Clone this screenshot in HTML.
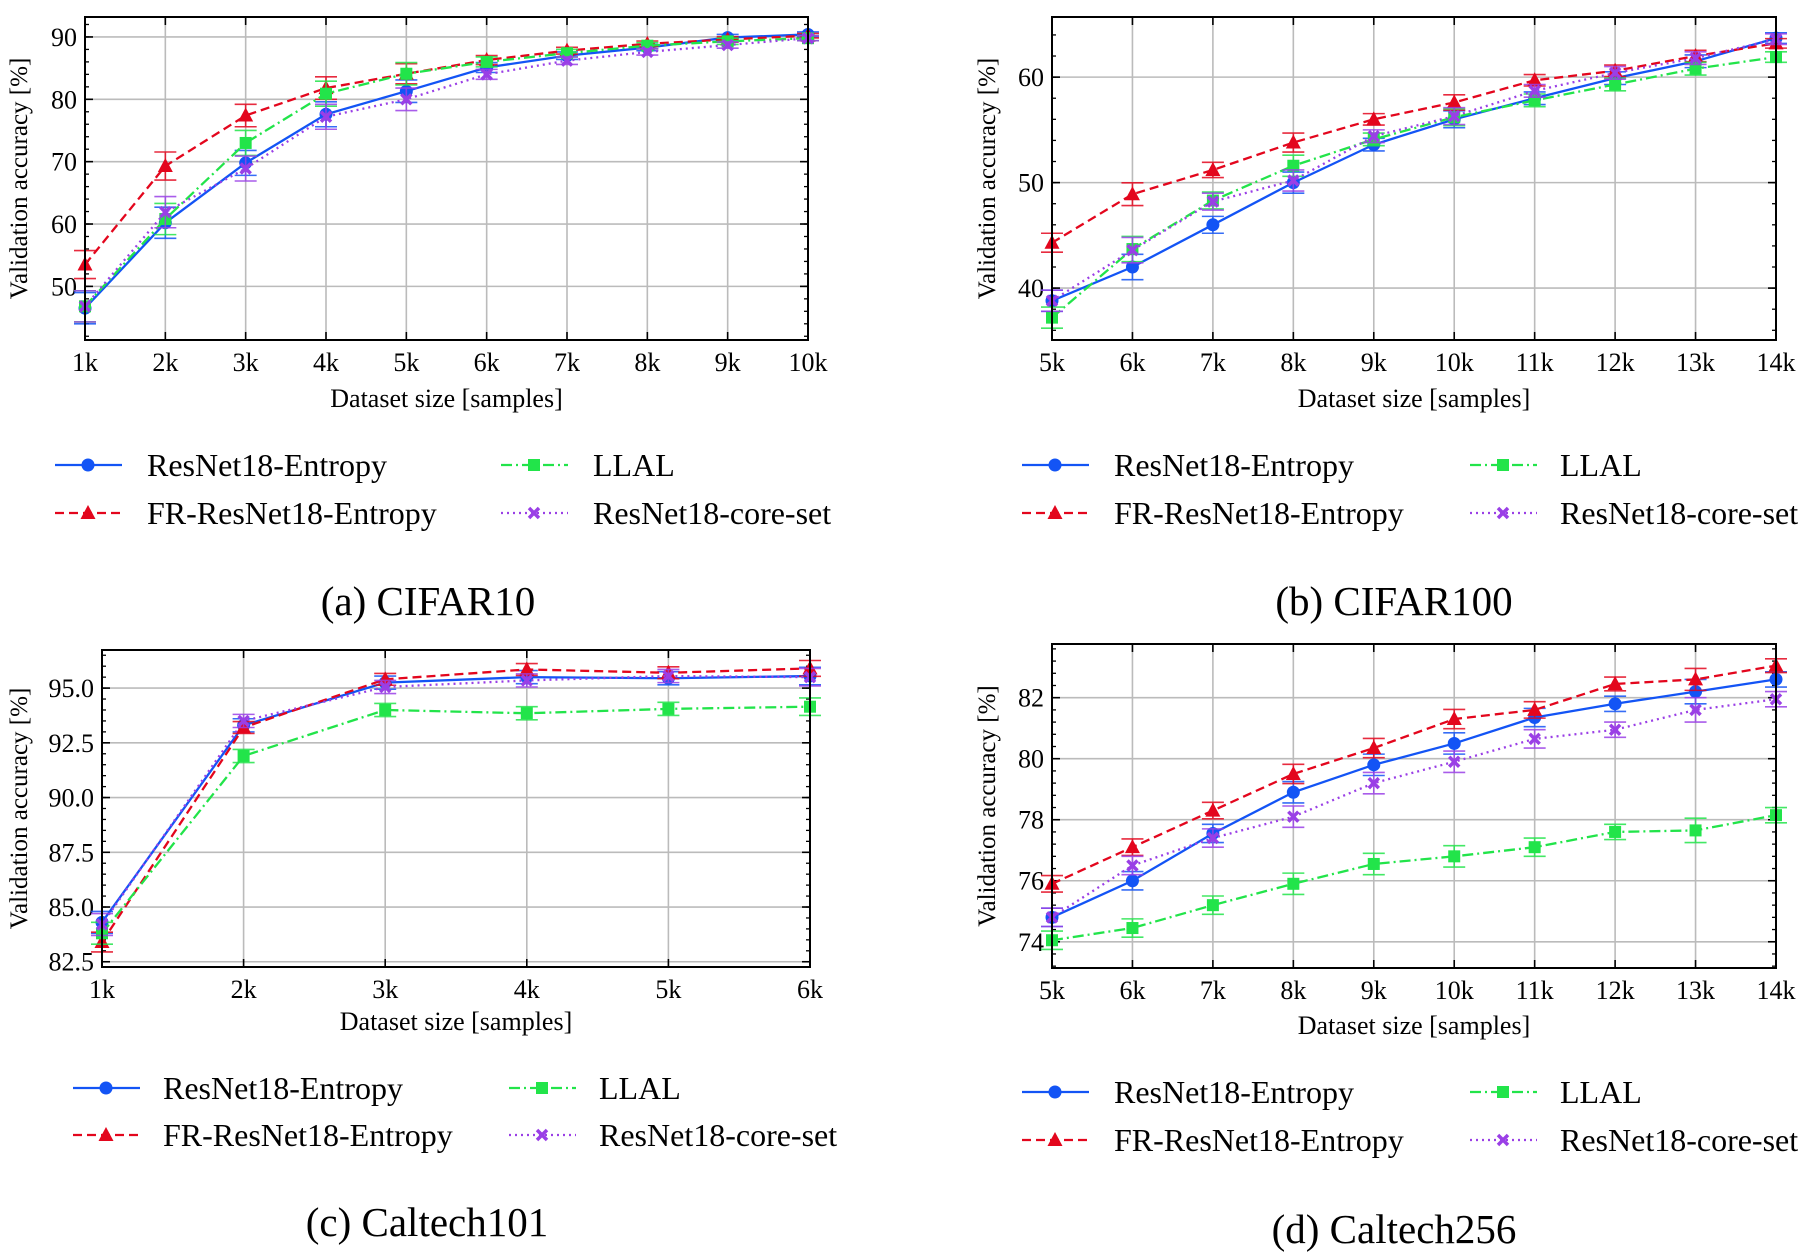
<!DOCTYPE html>
<html><head><meta charset="utf-8">
<style>
html,body{margin:0;padding:0;background:#fff;}
svg{display:block;font-family:"Liberation Serif",serif;}
</style></head>
<body>
<svg id="fig" width="1799" height="1253" viewBox="0 0 1799 1253" xmlns="http://www.w3.org/2000/svg"></svg>
<script>
// ---- data ----
const cifar10Cats = ["1k","2k","3k","4k","5k","6k","7k","8k","9k","10k"];
const cifar10Entropy = [46.5,60.2,69.8,77.6,81.3,85.1,87.0,88.3,89.9,90.4];
const cifar10FR = [53.5,69.3,77.4,81.8,84.1,86.3,87.8,88.9,89.6,90.2];
const cifar10LLAL = [46.8,60.8,73.0,80.9,84.1,86.0,87.4,88.6,89.3,89.8];
const cifar10Core = [46.8,61.9,68.9,77.2,80.0,84.0,86.2,87.6,88.7,89.8];
const cifar10Err = [2.5,2.5,2,2,1.8,0.8,0.6,0.5,0.5,0.4];
const cifar10Ticks = [50,60,70,80,90];

const cifar100Cats = ["5k","6k","7k","8k","9k","10k","11k","12k","13k","14k"];
const cifar100Entropy = [38.8,42.0,46.0,50.0,53.6,56.0,58.0,59.9,61.5,63.7];
const cifar100FR = [44.3,48.9,51.2,53.8,56.0,57.6,59.7,60.6,62.0,63.2];
const cifar100LLAL = [37.2,43.7,48.3,51.6,54.1,56.2,57.8,59.3,60.8,61.9];
const cifar100Core = [38.8,43.6,48.2,50.2,54.4,56.3,58.7,60.4,61.8,63.6];
const cifar100Err = [1,1.2,0.8,1,0.6,0.8,0.6,0.6,0.6,0.5];
const cifar100Ticks = [40,50,60];

const cal101Cats = ["1k","2k","3k","4k","5k","6k"];
const cal101Entropy = [84.3,93.3,95.25,95.5,95.45,95.55];
const cal101FR = [83.4,93.2,95.4,95.85,95.7,95.9];
const cal101LLAL = [83.8,91.9,94.0,93.85,94.05,94.15];
const cal101Core = [84.2,93.5,95.05,95.35,95.55,95.5];
const cal101Err = [0.5,0.3,0.3,0.3,0.3,0.4];
const cal101Ticks = [82.5,85.0,87.5,90.0,92.5,95.0];

const cal256Cats = ["5k","6k","7k","8k","9k","10k","11k","12k","13k","14k"];
const cal256Entropy = [74.8,76.0,77.55,78.9,79.8,80.5,81.35,81.8,82.2,82.6];
const cal256FR = [75.9,77.1,78.3,79.5,80.35,81.3,81.6,82.45,82.6,83.05];
const cal256LLAL = [74.05,74.45,75.2,75.9,76.55,76.8,77.1,77.6,77.65,78.15];
const cal256Core = [74.8,76.5,77.4,78.1,79.2,79.9,80.65,80.95,81.6,81.95];
const cal256Err = [0.3,0.3,0.3,0.35,0.35,0.35,0.3,0.25,0.4,0.25];
const cal256Ticks = [74,76,78,80,82];

const seriesNames = ["ResNet18-Entropy","FR-ResNet18-Entropy","LLAL","ResNet18-core-set"];
const colors = ["#1354f5","#e3061d","#22e44a","#9a3fe6"];
const dashes = ["", "9,5", "11,4,2,4", "2,4"];
const markers = ["circle","tri","square","x"];

const NS="http://www.w3.org/2000/svg";
const svg=document.getElementById('fig');
function mk(tag,attrs,parent){const e=document.createElementNS(NS,tag);for(const k in attrs)e.setAttribute(k,attrs[k]);(parent||svg).appendChild(e);return e;}

function marker(g,type,x,y,c){
  let m;
  if(type==="circle") m=mk('circle',{cx:x,cy:y,r:6.5,fill:c},g);
  else if(type==="tri") m=mk('polygon',{points:`${x},${y-8} ${x-7.5},${y+6} ${x+7.5},${y+6}`,fill:c},g);
  else if(type==="square") m=mk('rect',{x:x-6,y:y-6,width:12,height:12,fill:c},g);
  else { m=mk('path',{d:`M${x-5},${y-5}L${x+5},${y+5}M${x-5},${y+5}L${x+5},${y-5}`,stroke:c,'stroke-width':3.5,fill:'none'},g); }
  
  
}

function chart(o){
  const g=mk('g',{});
  
  
  const {L,R,T,B,ymin,ymax}=o;
  const n=o.cats.length;
  const xs=i=>L+(R-L)*i/(n-1);
  const ys=v=>B-(B-T)*(v-ymin)/(ymax-ymin);
  for(let i=0;i<n;i++){const gl=mk('line',{x1:xs(i),x2:xs(i),y1:T,y2:B,stroke:'#bbb','stroke-width':1.6},g);}
  o.ticks.forEach(t=>{const gl=mk('line',{x1:L,x2:R,y1:ys(t),y2:ys(t),stroke:'#bbb','stroke-width':1.6},g);});
  const step=o.ticks[1]-o.ticks[0];
  for(let v=o.ticks[0]-step;v<=ymax;v+=step/5){ if(v<ymin) continue; const y=ys(v);
    mk('line',{x1:L,x2:L+4,y1:y,y2:y,stroke:'#000','stroke-width':1.3},g);
    mk('line',{x1:R,x2:R-4,y1:y,y2:y,stroke:'#000','stroke-width':1.3},g);}
  o.ticks.forEach(t=>{const y=ys(t);
    mk('line',{x1:L,x2:L+8,y1:y,y2:y,stroke:'#000','stroke-width':1.6},g);
    mk('line',{x1:R,x2:R-8,y1:y,y2:y,stroke:'#000','stroke-width':1.6},g);
    const tl=mk('text',{x:L-8,y:y+9,'text-anchor':'end','font-size':26},g);tl.textContent=o.tickFmt(t);
    });
  for(let i=0;i<n;i++){const x=xs(i);
    mk('line',{x1:x,x2:x,y1:B,y2:B-8,stroke:'#000','stroke-width':1.6},g);
    mk('line',{x1:x,x2:x,y1:T,y2:T+8,stroke:'#000','stroke-width':1.6},g);
    const tl=mk('text',{x:x,y:B+31,'text-anchor':'middle','font-size':26},g);tl.textContent=o.cats[i];
    }
  o.series.forEach((s,si)=>{
    const sg=mk('g',{},g);
    
    
    s.forEach((v,i)=>{const x=xs(i),e=o.err[i]*(si===1?0.9:1);
      const eb=mk('path',{d:`M${x},${ys(v-e)}V${ys(v+e)}M${x-11},${ys(v-e)}h22M${x-11},${ys(v+e)}h22`,stroke:colors[si],'stroke-width':1.6,fill:'none','stroke-opacity':0.85},sg);
      });
    const pl=mk('polyline',{points:s.map((v,i)=>xs(i)+','+ys(v)).join(' '),fill:'none',stroke:colors[si],'stroke-width':2.3,'stroke-dasharray':dashes[si]},sg);
    
    s.forEach((v,i)=>marker(sg,markers[si],xs(i),ys(v),colors[si]));
  });
  const fr=mk('rect',{x:L,y:T,width:R-L,height:B-T,fill:'none',stroke:'#000','stroke-width':2},g);
  
  const xt=mk('text',{x:(L+R)/2,y:o.xtY,'text-anchor':'middle','font-size':26},g);xt.textContent='Dataset size [samples]';
  
  const cy=(T+B)/2;
  const yt=mk('text',{x:o.ytX,y:cy,'text-anchor':'middle','font-size':25,transform:`rotate(-90 ${o.ytX} ${cy})`},g);yt.textContent='Validation accuracy [%]';
  
  const lg=mk('g',{},g);
  
  const pos=[[0,0],[0,1],[1,0],[1,1]];
  pos.forEach((p,si)=>{const lx=o.legX[p[0]],ly=o.legY[p[1]];
    const en=mk('g',{},lg);
    mk('line',{x1:lx,x2:lx+67,y1:ly,y2:ly,stroke:colors[si],'stroke-width':2.3,'stroke-dasharray':dashes[si]},en);
    marker(en,markers[si],lx+33,ly,colors[si]);
    const t=mk('text',{x:o.legT[p[0]],y:ly+11,'font-size':32},en);t.textContent=seriesNames[si];});
  const cap=mk('text',{x:o.capX,y:o.capY,'text-anchor':'middle','font-size':41},g);cap.textContent=o.caption;
  
}
chart({name:'chart-cifar10',cats:cifar10Cats,series:[cifar10Entropy,cifar10FR,cifar10LLAL,cifar10Core],err:cifar10Err,ticks:cifar10Ticks,tickFmt:t=>t,
  L:85,R:808,T:17,B:340,ymin:41.4,ymax:93.2,xtY:407,ytX:27,legX:[55,501],legT:[147,593],legY:[465,513],capX:428,capY:615,caption:'(a) CIFAR10'});
chart({name:'chart-cifar100',cats:cifar100Cats,series:[cifar100Entropy,cifar100FR,cifar100LLAL,cifar100Core],err:cifar100Err,ticks:cifar100Ticks,tickFmt:t=>t,
  L:1052,R:1776,T:17,B:340,ymin:35.08,ymax:65.7,xtY:407,ytX:995,legX:[1022,1470],legT:[1114,1560],legY:[465,513],capX:1394,capY:615,caption:'(b) CIFAR100'});
chart({name:'chart-caltech101',cats:cal101Cats,series:[cal101Entropy,cal101FR,cal101LLAL,cal101Core],err:cal101Err,ticks:cal101Ticks,tickFmt:t=>t.toFixed(1),
  L:102,R:810,T:650,B:967,ymin:82.26,ymax:96.74,xtY:1030,ytX:27,legX:[73,509],legT:[163,599],legY:[1088,1135],capX:427,capY:1236,caption:'(c) Caltech101'});
chart({name:'chart-caltech256',cats:cal256Cats,series:[cal256Entropy,cal256FR,cal256LLAL,cal256Core],err:cal256Err,ticks:cal256Ticks,tickFmt:t=>t,
  L:1052,R:1776,T:644,B:968,ymin:73.14,ymax:83.76,xtY:1034,ytX:995,legX:[1022,1470],legT:[1114,1560],legY:[1092,1140],capX:1394,capY:1243,caption:'(d) Caltech256'});
</script>
</body></html>
